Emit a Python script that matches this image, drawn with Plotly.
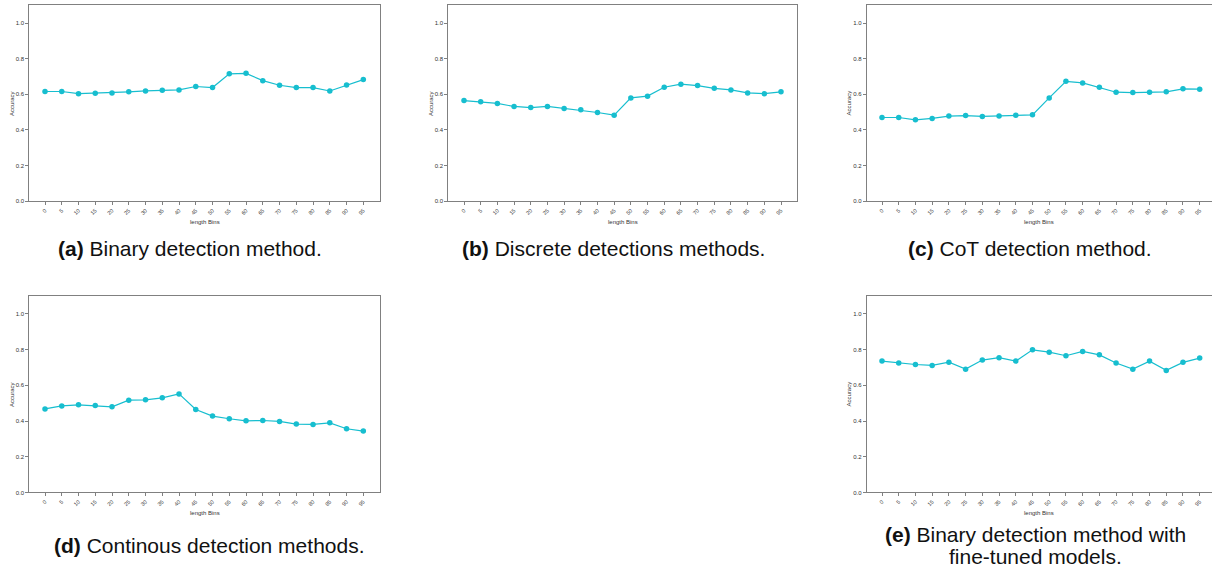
import plotly.graph_objects as go

W, H = 1212, 578

bins = ["0", "5", "10", "15", "20", "25", "30", "35", "40", "45",
        "50", "55", "60", "65", "70", "75", "80", "85", "90", "95"]

acc_binary = [0.616, 0.616, 0.604, 0.606, 0.608, 0.614, 0.619, 0.623, 0.625, 0.644,
              0.638, 0.715, 0.718, 0.677, 0.651, 0.638, 0.638, 0.619, 0.653, 0.683]
acc_discrete = [0.565, 0.558, 0.549, 0.532, 0.526, 0.532, 0.521, 0.513, 0.498, 0.483,
                0.580, 0.590, 0.640, 0.657, 0.649, 0.634, 0.625, 0.608, 0.604, 0.614]
acc_cot = [0.470, 0.470, 0.457, 0.465, 0.478, 0.481, 0.476, 0.478, 0.483, 0.485,
           0.580, 0.673, 0.664, 0.640, 0.612, 0.610, 0.612, 0.614, 0.631, 0.629]
acc_continuous = [0.468, 0.485, 0.491, 0.487, 0.480, 0.517, 0.519, 0.530, 0.552, 0.465,
                  0.428, 0.413, 0.401, 0.403, 0.398, 0.383, 0.381, 0.390, 0.357, 0.344]
acc_finetuned = [0.736, 0.725, 0.717, 0.712, 0.730, 0.691, 0.742, 0.755, 0.736, 0.799,
                 0.786, 0.766, 0.790, 0.771, 0.725, 0.691, 0.736, 0.684, 0.729, 0.753]

yticks = [0.0, 0.2, 0.4, 0.6, 0.8, 1.0]
ytick_text = ["0.0", "0.2", "0.4", "0.6", "0.8", "1.0"]

# caption lines: (bold tag, text lines)
captions = [
    ("(a)", ["Binary detection method."]),
    ("(b)", ["Discrete detections methods."]),
    ("(c)", ["CoT detection method."]),
    ("(d)", ["Continous detection methods."]),
    ("(e)", ["Binary detection method with", "fine-tuned models."]),
]

series = [acc_binary, acc_discrete, acc_cot, acc_continuous, acc_finetuned]

# panel frames in pixels: (left, right, top, bottom, first_tick_px, last_tick_px, mirror_right)
panels = [
    (29.3, 380.0, 5.3, 202.3, 45.0, 363.3, True),
    (448.3, 797.3, 5.3, 202.3, 464.0, 781.0, True),
    (866.7, 1212.0, 5.3, 202.3, 882.0, 1199.7, False),
    (29.3, 380.0, 297.7, 495.0, 45.0, 363.3, True),
    (866.7, 1212.0, 297.7, 495.0, 882.0, 1199.7, False),
]

# caption line centres (x, [y per line])
caption_pos = [(190, [250]), (613, [250]), (1030, [250]), (210, [548]), (1035, [537, 559])]

COLOR = "#17becf"
AXCOL = "#808080"
TXT = "#333333"
FONT = "Liberation Sans, Arial, sans-serif"

fig = go.Figure()
layout = dict(
    width=W, height=H, margin=dict(l=0, r=0, t=0, b=0),
    paper_bgcolor="white", plot_bgcolor="white", showlegend=False,
    font=dict(family=FONT, color=TXT),
)
annotations = []

for i, (vals, (l, r, t, b, t0, t1, mir)) in enumerate(zip(series, panels)):
    sfx = "" if i == 0 else str(i + 1)
    ppu = (t1 - t0) / 19.0
    x0 = -(t0 - l) / ppu
    x1 = 19 + (r - t1) / ppu
    fig.add_trace(go.Scatter(
        x=list(range(len(bins))), y=vals, mode="lines+markers",
        line=dict(color=COLOR, width=1.2),
        marker=dict(color=COLOR, size=5.5),
        xaxis="x" + sfx, yaxis="y" + sfx, hoverinfo="skip",
    ))
    layout["xaxis" + sfx] = dict(
        domain=[l / W, r / W], range=[x0, x1], anchor="y" + sfx,
        tickmode="array", tickvals=list(range(len(bins))), ticktext=bins,
        tickangle=-45, tickfont=dict(size=5.5, color=TXT),
        showline=True, linecolor=AXCOL, linewidth=1, mirror=True,
        ticks="outside", ticklen=3, tickcolor=AXCOL, tickwidth=0.8,
        showgrid=False, zeroline=False, fixedrange=True,
    )
    layout["yaxis" + sfx] = dict(
        domain=[1 - b / H, 1 - t / H], range=[0, 1.1], anchor="x" + sfx,
        tickmode="array", tickvals=yticks, ticktext=ytick_text,
        tickfont=dict(size=6, color=TXT),
        showline=True, linecolor=AXCOL, linewidth=1, mirror=mir,
        ticks="outside", ticklen=3, tickcolor=AXCOL, tickwidth=0.8,
        showgrid=False, zeroline=False, fixedrange=True,
    )
    # axis titles
    annotations.append(dict(
        text="length Bins", x=(l + min(r, l + 350.7)) / 2 / W, y=1 - (b + 20.5) / H,
        xref="paper", yref="paper", showarrow=False,
        font=dict(size=6, color=TXT), xanchor="center", yanchor="middle",
    ))
    annotations.append(dict(
        text="Accuracy", x=(l - 17.5) / W, y=1 - (t + b) / 2 / H,
        xref="paper", yref="paper", showarrow=False, textangle=-90,
        font=dict(size=6, color=TXT), xanchor="center", yanchor="middle",
    ))
    tag, lines = captions[i]
    cx, ys = caption_pos[i]
    for j, (line, cy) in enumerate(zip(lines, ys)):
        txt = ("<b>" + tag + "</b> " + line) if j == 0 else line
        annotations.append(dict(
            text=txt, x=cx / W, y=1 - cy / H,
            xref="paper", yref="paper", showarrow=False, align="center",
            font=dict(size=21, color="#111111", family=FONT),
            xanchor="center", yanchor="middle",
        ))

layout["annotations"] = annotations
fig.update_layout(**layout)
fig.write_html("out.html")
